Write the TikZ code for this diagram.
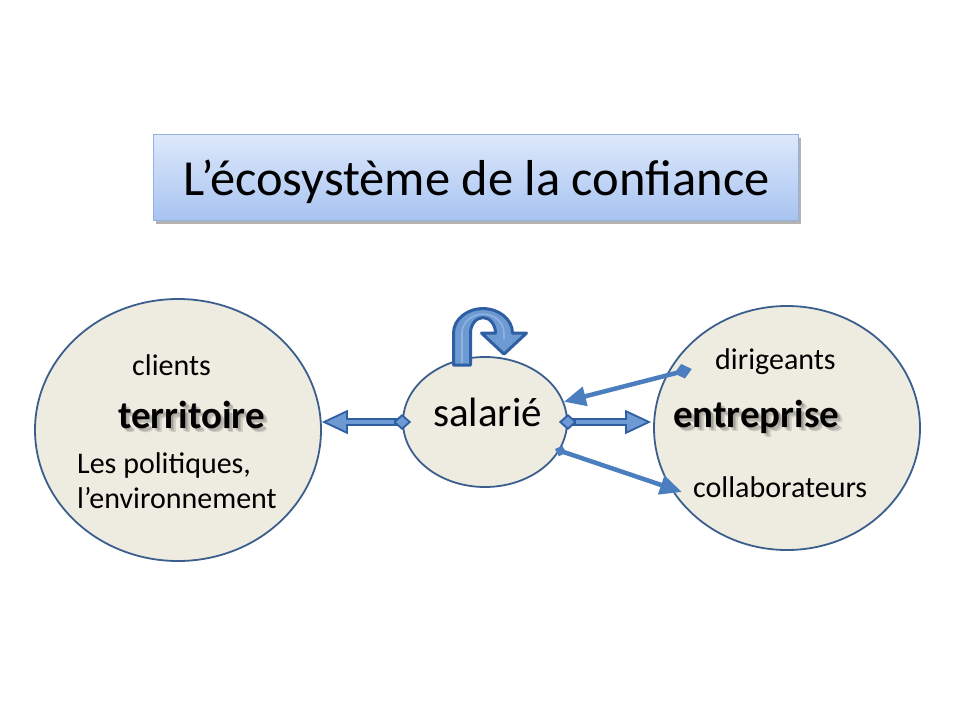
\documentclass[tikz,border=0pt]{standalone}
\usepackage{fontspec}
\setmainfont{Carlito}
\usetikzlibrary{arrows.meta,shadows,shapes.geometric,calc}
\definecolor{circfill}{HTML}{EEECE1}
\definecolor{circline}{HTML}{3B5E8C}
\definecolor{arrblue}{HTML}{4A7EBE}
\definecolor{arrdark}{HTML}{2F5FA3}
\definecolor{arrmid}{HTML}{6E9AD3}
\definecolor{arrlight}{HTML}{8FB2E0}
\definecolor{titletop}{HTML}{DDE8FB}
\definecolor{titlebot}{HTML}{A7C3F1}
\definecolor{titleline}{HTML}{93B1DA}
\tikzset{
  circnode/.style={ellipse, draw=circline, line width=1.8pt, fill=circfill, inner sep=0pt},
  titlebox/.style={rectangle, draw=titleline, line width=0.8pt, top color=titletop, bottom color=titlebot,
    drop shadow={shadow xshift=2.5pt, shadow yshift=-3pt, fill=black, opacity=0.3}},
  smalltxt/.style={font=\fontsize{30}{36}\selectfont, inner sep=0pt, anchor=base west},
  bigtxt/.style={font=\fontsize{39}{46}\selectfont\bfseries, inner sep=0pt, anchor=base west},
  shadowtxt/.style={bigtxt, text=black, opacity=0.12},
  dblarrow/.style={line width=8pt, color=arrdark,
    {Diamond[length=18pt,width=16pt,fill=arrmid,color=arrdark,line width=1.8pt]}-{Triangle[length=26pt,width=24pt,fill=arrmid,color=arrdark,line width=1.8pt]}},
  dblinner/.style={line width=3.2pt, color=arrmid},
  solidarrow/.style={line width=4.5pt, color=arrblue},
}
\begin{document}
\begin{tikzpicture}[x=1pt,y=-1pt]
\useasboundingbox (0,0) rectangle (960,720);
\fill[white] (0,0) rectangle (960,720);

% title
\node[titlebox, minimum width=645pt, minimum height=86pt] (title) at (475.5,177.5) {};
\node[font=\fontsize{50.5}{60}\selectfont, inner sep=0pt, anchor=base] (titletxt) at (476.5,195) {L’écosystème de la confiance};

% circles
\node[circnode, minimum width=286pt, minimum height=262pt] (ter) at (178,430) {};
\node[circnode, minimum width=266pt, minimum height=244pt] (ent) at (787,428) {};
\node[circnode, minimum width=164pt, minimum height=130pt] (sal) at (485,422) {};

% texts in territoire
\node[smalltxt] (clients) at (132,375) {clients};
\node[shadowtxt] (tershadowa) at (119.5,429.5) {territoire};
\node[shadowtxt] (tershadowb) at (121,431) {territoire};
\node[shadowtxt] (tershadowc) at (122.5,432.5) {territoire};
\node[bigtxt] (tertxt) at (118,428) {territoire};
\node[smalltxt] (politiques) at (77,473) {Les politiques,};
\node[smalltxt] (environ) at (77,508) {l’environnement};

% salarie
\node[font=\fontsize{41}{48}\selectfont, inner sep=0pt, anchor=base west] (saltxt) at (433,426) {salarié};

% entreprise
\node[smalltxt] (dirigeants) at (715,369) {dirigeants};
\node[shadowtxt] (entshadowa) at (674.5,428.5) {entreprise};
\node[shadowtxt] (entshadowb) at (676,430) {entreprise};
\node[shadowtxt] (entshadowc) at (677.5,431.5) {entreprise};
\node[bigtxt] (enttxt) at (673,427) {entreprise};
\node[smalltxt] (collab) at (693,497) {collaborateurs};

% double arrows
\draw[dblarrow, shorten <=-9pt] (sal.west) -- (sal.west -| ter.east);
\draw[dblinner, shorten <=8pt, shorten >=22pt] (sal.west) -- (sal.west -| ter.east);
\draw[dblarrow, shorten <=-9pt, shorten >=2pt] (sal.east) -- (sal.east -| ent.west);
\draw[dblinner, shorten <=8pt, shorten >=24pt] (sal.east) -- (sal.east -| ent.west);

% solid arrows
\coordinate (dstart) at (684,371);
\coordinate (cend) at (682,492);
\draw[solidarrow, {Diamond[length=18pt,width=15pt]}-{Triangle[length=22pt,width=19pt]}, shorten <=-8pt] (dstart) -- (sal);
\draw[solidarrow, {Diamond[length=12pt,width=11pt]}-{Triangle[length=22pt,width=19pt]}, shorten <=-5pt] (sal.-21) -- (cend);

% u-turn arrow on top of salarie
\begin{scope}[shift={(sal.north)}]
\draw[fill=arrmid, draw=arrdark, line width=3pt, line join=round]
  (-31.5,9) -- (-31.5,-23)
  arc[start angle=180, end angle=360, x radius=29.5, y radius=24.5]
  -- (41.5,-23) -- (19,-2) -- (-3.5,-23) -- (10.5,-23)
  arc[start angle=0, end angle=-180, x radius=12.5, y radius=15.5]
  -- (-14.5,9) -- cycle;
\draw[arrlight, line width=1.6pt, line join=round]
  (-23,7) -- (-23,-23)
  arc[start angle=180, end angle=360, x radius=21, y radius=19]
  -- (19,-17);
\end{scope}
\end{tikzpicture}
\end{document}
